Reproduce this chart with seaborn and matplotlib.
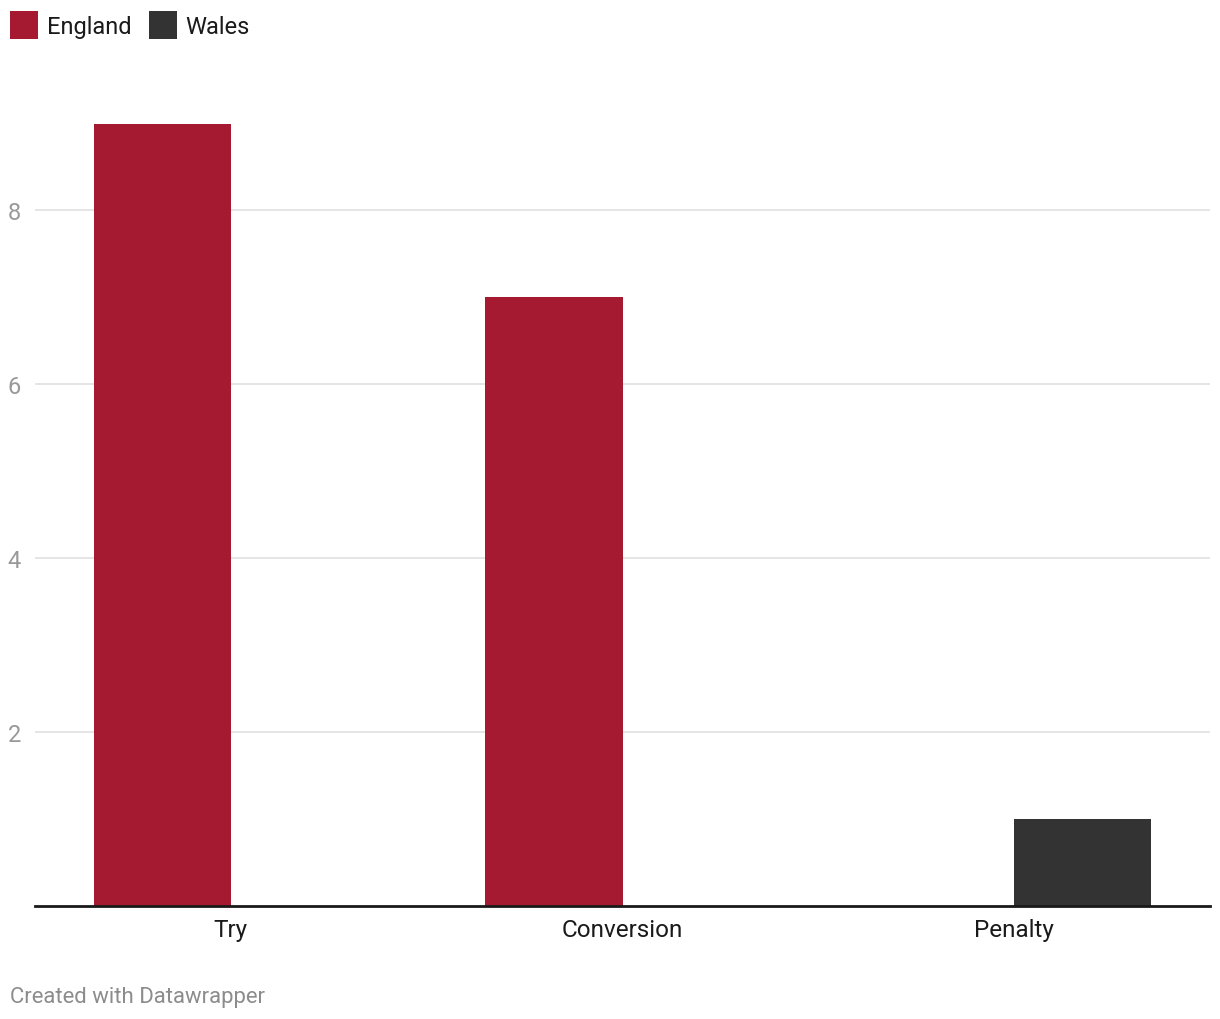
import pandas as pd
import matplotlib
matplotlib.use("Agg")
import matplotlib.pyplot as plt
from matplotlib.patches import Patch
import seaborn as sns

# score types and counts per team
categories = ["Try", "Conversion", "Penalty"]
england = [9, 7, 0]
wales = [0, 0, 1]
teams = ["England", "Wales"]
colors = ["#a51931", "#333333"]

df = pd.DataFrame({
    "Type": categories * 2,
    "Team": ["England"] * 3 + ["Wales"] * 3,
    "Count": england + wales,
})

sns.set_style("white")
plt.rcParams["font.family"] = ["Roboto", "DejaVu Sans"]

fig = plt.figure(figsize=(12.2, 10.2), dpi=100)
ax = fig.add_axes([35 / 1220, 1 - 906.5 / 1020, 1175 / 1220, 782 / 1020])

sns.barplot(data=df, x="Type", y="Count", hue="Team", hue_order=teams,
            palette=colors, width=0.7, saturation=1, linewidth=0,
            ax=ax, legend=False)

ax.set_xlim(-0.5, 2.5)
ax.set_ylim(0, 9)
ax.set_yticks([2, 4, 6, 8])
ax.yaxis.grid(True, color="#e3e3e3", linewidth=1.3)
ax.set_axisbelow(True)
for s in ["top", "right", "left"]:
    ax.spines[s].set_visible(False)
ax.spines["bottom"].set_color("#1a1a1a")
ax.spines["bottom"].set_linewidth(2)
ax.tick_params(axis="y", length=0, pad=10, labelsize=17, labelcolor="#999999")
ax.tick_params(axis="x", length=0, pad=9, labelsize=17.5, labelcolor="#1a1a1a")
ax.set_xlabel("")
ax.set_ylabel("")

handles = [Patch(facecolor=c, edgecolor="none") for c in colors]
fig.legend(handles, teams, loc="upper left",
           bbox_to_anchor=(10 / 1220, 1 - 12 / 1020),
           ncol=2, frameon=False, fontsize=17, handlelength=1.19,
           handleheight=1.45, handletextpad=0.38, columnspacing=0.72,
           labelcolor="#1a1a1a", borderaxespad=0, borderpad=0)

fig.text(10 / 1220, 1 - 998 / 1020, "Created with Datawrapper",
         fontsize=15.9, color="#8c8c8c", va="center", ha="left")

fig.savefig("out.png", dpi=100)
